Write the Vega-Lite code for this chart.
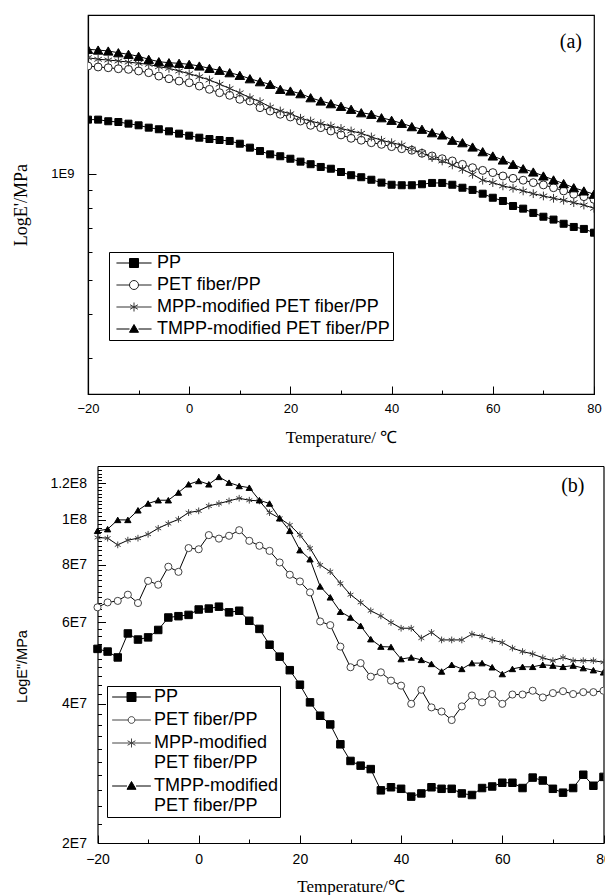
{
"$schema":"https://vega.github.io/schema/vega-lite/v6.json",
"padding":{"left":12,"top":14,"right":0,"bottom":0},
"background":"white",
"config":{
 "view":{"stroke":"black","strokeWidth":1.2},
 "axis":{"grid":false,"domainColor":"black","domainWidth":1.2,"tickColor":"black","tickWidth":1,"labelColor":"black","titleColor":"black","labelFont":"Liberation Sans","titleFont":"Liberation Serif","titleFontWeight":"normal","labelFlush":false,"labelOverlap":false},
 "legend":{"labelFont":"Liberation Sans","labelFontSize":18,"labelColor":"black","labelLimit":400,"strokeColor":"black","fillColor":"white","padding":2,"symbolStrokeWidth":1},
 "title":{"font":"Liberation Serif","fontWeight":"normal","color":"black"}
},
"datasets":{
"a":[
{"T":-20,"S":"PP","E":1.427e9},{"T":-18,"S":"PP","E":1.427e9},{"T":-16,"S":"PP","E":1.412e9},{"T":-14,"S":"PP","E":1.405e9},{"T":-12,"S":"PP","E":1.390e9},{"T":-10,"S":"PP","E":1.375e9},{"T":-8,"S":"PP","E":1.354e9},{"T":-6,"S":"PP","E":1.340e9},{"T":-4,"S":"PP","E":1.322e9},{"T":-2,"S":"PP","E":1.302e9},{"T":0,"S":"PP","E":1.285e9},{"T":2,"S":"PP","E":1.268e9},{"T":4,"S":"PP","E":1.257e9},{"T":6,"S":"PP","E":1.249e9},{"T":8,"S":"PP","E":1.241e9},{"T":10,"S":"PP","E":1.219e9},{"T":12,"S":"PP","E":1.188e9},{"T":14,"S":"PP","E":1.162e9},{"T":16,"S":"PP","E":1.137e9},{"T":18,"S":"PP","E":1.123e9},{"T":20,"S":"PP","E":1.105e9},{"T":22,"S":"PP","E":1.084e9},{"T":24,"S":"PP","E":1.066e9},{"T":26,"S":"PP","E":1.047e9},{"T":28,"S":"PP","E":1.035e9},{"T":30,"S":"PP","E":1.013e9},{"T":32,"S":"PP","E":0.992e9},{"T":34,"S":"PP","E":0.979e9},{"T":36,"S":"PP","E":0.963e9},{"T":38,"S":"PP","E":0.945e9},{"T":40,"S":"PP","E":0.932e9},{"T":42,"S":"PP","E":0.929e9},{"T":44,"S":"PP","E":0.929e9},{"T":46,"S":"PP","E":0.935e9},{"T":48,"S":"PP","E":0.943e9},{"T":50,"S":"PP","E":0.943e9},{"T":52,"S":"PP","E":0.932e9},{"T":54,"S":"PP","E":0.914e9},{"T":56,"S":"PP","E":0.901e9},{"T":58,"S":"PP","E":0.879e9},{"T":60,"S":"PP","E":0.856e9},{"T":62,"S":"PP","E":0.838e9},{"T":64,"S":"PP","E":0.811e9},{"T":66,"S":"PP","E":0.797e9},{"T":68,"S":"PP","E":0.775e9},{"T":70,"S":"PP","E":0.756e9},{"T":72,"S":"PP","E":0.742e9},{"T":74,"S":"PP","E":0.722e9},{"T":76,"S":"PP","E":0.707e9},{"T":78,"S":"PP","E":0.698e9},{"T":80,"S":"PP","E":0.681e9},
{"T":-20,"S":"PET","E":2.027e9},{"T":-18,"S":"PET","E":2.014e9},{"T":-16,"S":"PET","E":2.004e9},{"T":-14,"S":"PET","E":1.991e9},{"T":-12,"S":"PET","E":1.983e9},{"T":-10,"S":"PET","E":1.962e9},{"T":-8,"S":"PET","E":1.940e9},{"T":-6,"S":"PET","E":1.898e9},{"T":-4,"S":"PET","E":1.865e9},{"T":-2,"S":"PET","E":1.837e9},{"T":0,"S":"PET","E":1.817e9},{"T":2,"S":"PET","E":1.778e9},{"T":4,"S":"PET","E":1.740e9},{"T":6,"S":"PET","E":1.702e9},{"T":8,"S":"PET","E":1.673e9},{"T":10,"S":"PET","E":1.630e9},{"T":12,"S":"PET","E":1.612e9},{"T":14,"S":"PET","E":1.543e9},{"T":16,"S":"PET","E":1.510e9},{"T":18,"S":"PET","E":1.478e9},{"T":20,"S":"PET","E":1.452e9},{"T":22,"S":"PET","E":1.414e9},{"T":24,"S":"PET","E":1.375e9},{"T":26,"S":"PET","E":1.354e9},{"T":28,"S":"PET","E":1.325e9},{"T":30,"S":"PET","E":1.291e9},{"T":32,"S":"PET","E":1.263e9},{"T":34,"S":"PET","E":1.247e9},{"T":36,"S":"PET","E":1.227e9},{"T":38,"S":"PET","E":1.214e9},{"T":40,"S":"PET","E":1.196e9},{"T":42,"S":"PET","E":1.180e9},{"T":44,"S":"PET","E":1.168e9},{"T":46,"S":"PET","E":1.145e9},{"T":48,"S":"PET","E":1.125e9},{"T":50,"S":"PET","E":1.105e9},{"T":52,"S":"PET","E":1.089e9},{"T":54,"S":"PET","E":1.065e9},{"T":56,"S":"PET","E":1.042e9},{"T":58,"S":"PET","E":1.024e9},{"T":60,"S":"PET","E":1.009e9},{"T":62,"S":"PET","E":0.987e9},{"T":64,"S":"PET","E":0.972e9},{"T":66,"S":"PET","E":0.960e9},{"T":68,"S":"PET","E":0.945e9},{"T":70,"S":"PET","E":0.931e9},{"T":72,"S":"PET","E":0.914e9},{"T":74,"S":"PET","E":0.895e9},{"T":76,"S":"PET","E":0.876e9},{"T":78,"S":"PET","E":0.862e9},{"T":80,"S":"PET","E":0.847e9},
{"T":-20,"S":"MPP","E":2.140e9},{"T":-18,"S":"MPP","E":2.118e9},{"T":-16,"S":"MPP","E":2.108e9},{"T":-14,"S":"MPP","E":2.094e9},{"T":-12,"S":"MPP","E":2.080e9},{"T":-10,"S":"MPP","E":2.063e9},{"T":-8,"S":"MPP","E":2.049e9},{"T":-6,"S":"MPP","E":2.017e9},{"T":-4,"S":"MPP","E":1.996e9},{"T":-2,"S":"MPP","E":1.962e9},{"T":0,"S":"MPP","E":1.927e9},{"T":2,"S":"MPP","E":1.890e9},{"T":4,"S":"MPP","E":1.850e9},{"T":6,"S":"MPP","E":1.800e9},{"T":8,"S":"MPP","E":1.750e9},{"T":10,"S":"MPP","E":1.700e9},{"T":12,"S":"MPP","E":1.647e9},{"T":14,"S":"MPP","E":1.605e9},{"T":16,"S":"MPP","E":1.550e9},{"T":18,"S":"MPP","E":1.510e9},{"T":20,"S":"MPP","E":1.483e9},{"T":22,"S":"MPP","E":1.440e9},{"T":24,"S":"MPP","E":1.414e9},{"T":26,"S":"MPP","E":1.390e9},{"T":28,"S":"MPP","E":1.369e9},{"T":30,"S":"MPP","E":1.347e9},{"T":32,"S":"MPP","E":1.325e9},{"T":34,"S":"MPP","E":1.305e9},{"T":36,"S":"MPP","E":1.274e9},{"T":38,"S":"MPP","E":1.247e9},{"T":40,"S":"MPP","E":1.227e9},{"T":42,"S":"MPP","E":1.209e9},{"T":44,"S":"MPP","E":1.175e9},{"T":46,"S":"MPP","E":1.149e9},{"T":48,"S":"MPP","E":1.113e9},{"T":50,"S":"MPP","E":1.089e9},{"T":52,"S":"MPP","E":1.061e9},{"T":54,"S":"MPP","E":1.031e9},{"T":56,"S":"MPP","E":0.998e9},{"T":58,"S":"MPP","E":0.960e9},{"T":60,"S":"MPP","E":0.945e9},{"T":62,"S":"MPP","E":0.925e9},{"T":64,"S":"MPP","E":0.911e9},{"T":66,"S":"MPP","E":0.895e9},{"T":68,"S":"MPP","E":0.879e9},{"T":70,"S":"MPP","E":0.866e9},{"T":72,"S":"MPP","E":0.853e9},{"T":74,"S":"MPP","E":0.842e9},{"T":76,"S":"MPP","E":0.829e9},{"T":78,"S":"MPP","E":0.816e9},{"T":80,"S":"MPP","E":0.799e9},
{"T":-20,"S":"TMPP","E":2.261e9},{"T":-18,"S":"TMPP","E":2.250e9},{"T":-16,"S":"TMPP","E":2.236e9},{"T":-14,"S":"TMPP","E":2.211e9},{"T":-12,"S":"TMPP","E":2.188e9},{"T":-10,"S":"TMPP","E":2.160e9},{"T":-8,"S":"TMPP","E":2.118e9},{"T":-6,"S":"TMPP","E":2.085e9},{"T":-4,"S":"TMPP","E":2.071e9},{"T":-2,"S":"TMPP","E":2.063e9},{"T":0,"S":"TMPP","E":2.049e9},{"T":2,"S":"TMPP","E":2.027e9},{"T":4,"S":"TMPP","E":1.996e9},{"T":6,"S":"TMPP","E":1.971e9},{"T":8,"S":"TMPP","E":1.940e9},{"T":10,"S":"TMPP","E":1.907e9},{"T":12,"S":"TMPP","E":1.865e9},{"T":14,"S":"TMPP","E":1.829e9},{"T":16,"S":"TMPP","E":1.798e9},{"T":18,"S":"TMPP","E":1.740e9},{"T":20,"S":"TMPP","E":1.721e9},{"T":22,"S":"TMPP","E":1.691e9},{"T":24,"S":"TMPP","E":1.647e9},{"T":26,"S":"TMPP","E":1.612e9},{"T":28,"S":"TMPP","E":1.584e9},{"T":30,"S":"TMPP","E":1.557e9},{"T":32,"S":"TMPP","E":1.527e9},{"T":34,"S":"TMPP","E":1.493e9},{"T":36,"S":"TMPP","E":1.478e9},{"T":38,"S":"TMPP","E":1.445e9},{"T":40,"S":"TMPP","E":1.421e9},{"T":42,"S":"TMPP","E":1.393e9},{"T":44,"S":"TMPP","E":1.363e9},{"T":46,"S":"TMPP","E":1.340e9},{"T":48,"S":"TMPP","E":1.310e9},{"T":50,"S":"TMPP","E":1.291e9},{"T":52,"S":"TMPP","E":1.247e9},{"T":54,"S":"TMPP","E":1.227e9},{"T":56,"S":"TMPP","E":1.193e9},{"T":58,"S":"TMPP","E":1.157e9},{"T":60,"S":"TMPP","E":1.125e9},{"T":62,"S":"TMPP","E":1.096e9},{"T":64,"S":"TMPP","E":1.065e9},{"T":66,"S":"TMPP","E":1.035e9},{"T":68,"S":"TMPP","E":1.013e9},{"T":70,"S":"TMPP","E":0.987e9},{"T":72,"S":"TMPP","E":0.962e9},{"T":74,"S":"TMPP","E":0.939e9},{"T":76,"S":"TMPP","E":0.914e9},{"T":78,"S":"TMPP","E":0.895e9},{"T":80,"S":"TMPP","E":0.876e9}
],
"b":[
{"T":-20,"S":"PP","E":5.26e7},{"T":-18,"S":"PP","E":5.19e7},{"T":-16,"S":"PP","E":5.04e7},{"T":-14,"S":"PP","E":5.68e7},{"T":-12,"S":"PP","E":5.51e7},{"T":-10,"S":"PP","E":5.57e7},{"T":-8,"S":"PP","E":5.78e7},{"T":-6,"S":"PP","E":6.15e7},{"T":-4,"S":"PP","E":6.19e7},{"T":-2,"S":"PP","E":6.23e7},{"T":0,"S":"PP","E":6.40e7},{"T":2,"S":"PP","E":6.43e7},{"T":4,"S":"PP","E":6.49e7},{"T":6,"S":"PP","E":6.31e7},{"T":8,"S":"PP","E":6.36e7},{"T":10,"S":"PP","E":6.05e7},{"T":12,"S":"PP","E":5.81e7},{"T":14,"S":"PP","E":5.37e7},{"T":16,"S":"PP","E":5.06e7},{"T":18,"S":"PP","E":4.73e7},{"T":20,"S":"PP","E":4.40e7},{"T":22,"S":"PP","E":4.03e7},{"T":24,"S":"PP","E":3.77e7},{"T":26,"S":"PP","E":3.61e7},{"T":28,"S":"PP","E":3.27e7},{"T":30,"S":"PP","E":3.01e7},{"T":32,"S":"PP","E":2.94e7},{"T":34,"S":"PP","E":2.89e7},{"T":36,"S":"PP","E":2.60e7},{"T":38,"S":"PP","E":2.64e7},{"T":40,"S":"PP","E":2.62e7},{"T":42,"S":"PP","E":2.52e7},{"T":44,"S":"PP","E":2.56e7},{"T":46,"S":"PP","E":2.64e7},{"T":48,"S":"PP","E":2.62e7},{"T":50,"S":"PP","E":2.62e7},{"T":52,"S":"PP","E":2.56e7},{"T":54,"S":"PP","E":2.54e7},{"T":56,"S":"PP","E":2.63e7},{"T":58,"S":"PP","E":2.65e7},{"T":60,"S":"PP","E":2.70e7},{"T":62,"S":"PP","E":2.70e7},{"T":64,"S":"PP","E":2.63e7},{"T":66,"S":"PP","E":2.77e7},{"T":68,"S":"PP","E":2.73e7},{"T":70,"S":"PP","E":2.62e7},{"T":72,"S":"PP","E":2.57e7},{"T":74,"S":"PP","E":2.63e7},{"T":76,"S":"PP","E":2.81e7},{"T":78,"S":"PP","E":2.66e7},{"T":80,"S":"PP","E":2.78e7},
{"T":-20,"S":"PET","E":6.47e7},{"T":-18,"S":"PET","E":6.63e7},{"T":-16,"S":"PET","E":6.68e7},{"T":-14,"S":"PET","E":6.89e7},{"T":-12,"S":"PET","E":6.61e7},{"T":-10,"S":"PET","E":7.38e7},{"T":-8,"S":"PET","E":7.24e7},{"T":-6,"S":"PET","E":7.92e7},{"T":-4,"S":"PET","E":7.72e7},{"T":-2,"S":"PET","E":8.69e7},{"T":0,"S":"PET","E":8.64e7},{"T":2,"S":"PET","E":9.27e7},{"T":4,"S":"PET","E":9.11e7},{"T":6,"S":"PET","E":9.24e7},{"T":8,"S":"PET","E":9.50e7},{"T":10,"S":"PET","E":9.01e7},{"T":12,"S":"PET","E":8.79e7},{"T":14,"S":"PET","E":8.57e7},{"T":16,"S":"PET","E":8.09e7},{"T":18,"S":"PET","E":7.61e7},{"T":20,"S":"PET","E":7.36e7},{"T":22,"S":"PET","E":6.97e7},{"T":24,"S":"PET","E":6.03e7},{"T":26,"S":"PET","E":5.92e7},{"T":28,"S":"PET","E":5.32e7},{"T":30,"S":"PET","E":4.80e7},{"T":32,"S":"PET","E":4.90e7},{"T":34,"S":"PET","E":4.58e7},{"T":36,"S":"PET","E":4.68e7},{"T":38,"S":"PET","E":4.49e7},{"T":40,"S":"PET","E":4.38e7},{"T":42,"S":"PET","E":4.00e7},{"T":44,"S":"PET","E":4.29e7},{"T":46,"S":"PET","E":3.93e7},{"T":48,"S":"PET","E":3.85e7},{"T":50,"S":"PET","E":3.69e7},{"T":52,"S":"PET","E":3.95e7},{"T":54,"S":"PET","E":4.17e7},{"T":56,"S":"PET","E":4.03e7},{"T":58,"S":"PET","E":4.20e7},{"T":60,"S":"PET","E":4.00e7},{"T":62,"S":"PET","E":4.19e7},{"T":64,"S":"PET","E":4.19e7},{"T":66,"S":"PET","E":4.27e7},{"T":68,"S":"PET","E":4.13e7},{"T":70,"S":"PET","E":4.22e7},{"T":72,"S":"PET","E":4.26e7},{"T":74,"S":"PET","E":4.20e7},{"T":76,"S":"PET","E":4.24e7},{"T":78,"S":"PET","E":4.24e7},{"T":80,"S":"PET","E":4.27e7},
{"T":-20,"S":"MPP","E":9.16e7},{"T":-18,"S":"MPP","E":9.13e7},{"T":-16,"S":"MPP","E":8.83e7},{"T":-14,"S":"MPP","E":9.04e7},{"T":-12,"S":"MPP","E":9.13e7},{"T":-10,"S":"MPP","E":9.31e7},{"T":-8,"S":"MPP","E":9.59e7},{"T":-6,"S":"MPP","E":9.82e7},{"T":-4,"S":"MPP","E":1.003e8},{"T":-2,"S":"MPP","E":1.037e8},{"T":0,"S":"MPP","E":1.046e8},{"T":2,"S":"MPP","E":1.072e8},{"T":4,"S":"MPP","E":1.085e8},{"T":6,"S":"MPP","E":1.099e8},{"T":8,"S":"MPP","E":1.114e8},{"T":10,"S":"MPP","E":1.103e8},{"T":12,"S":"MPP","E":1.099e8},{"T":14,"S":"MPP","E":1.037e8},{"T":16,"S":"MPP","E":1.008e8},{"T":18,"S":"MPP","E":9.75e7},{"T":20,"S":"MPP","E":9.28e7},{"T":22,"S":"MPP","E":8.69e7},{"T":24,"S":"MPP","E":7.99e7},{"T":26,"S":"MPP","E":7.73e7},{"T":28,"S":"MPP","E":7.29e7},{"T":30,"S":"MPP","E":6.89e7},{"T":32,"S":"MPP","E":6.63e7},{"T":34,"S":"MPP","E":6.36e7},{"T":36,"S":"MPP","E":6.20e7},{"T":38,"S":"MPP","E":6.00e7},{"T":40,"S":"MPP","E":5.83e7},{"T":42,"S":"MPP","E":5.83e7},{"T":44,"S":"MPP","E":5.55e7},{"T":46,"S":"MPP","E":5.71e7},{"T":48,"S":"MPP","E":5.50e7},{"T":50,"S":"MPP","E":5.50e7},{"T":52,"S":"MPP","E":5.50e7},{"T":54,"S":"MPP","E":5.66e7},{"T":56,"S":"MPP","E":5.60e7},{"T":58,"S":"MPP","E":5.50e7},{"T":60,"S":"MPP","E":5.43e7},{"T":62,"S":"MPP","E":5.28e7},{"T":64,"S":"MPP","E":5.19e7},{"T":66,"S":"MPP","E":5.13e7},{"T":68,"S":"MPP","E":5.03e7},{"T":70,"S":"MPP","E":4.96e7},{"T":72,"S":"MPP","E":5.04e7},{"T":74,"S":"MPP","E":4.96e7},{"T":76,"S":"MPP","E":4.96e7},{"T":78,"S":"MPP","E":4.96e7},{"T":80,"S":"MPP","E":4.92e7},
{"T":-20,"S":"TMPP","E":9.47e7},{"T":-18,"S":"TMPP","E":9.55e7},{"T":-16,"S":"TMPP","E":1.000e8},{"T":-14,"S":"TMPP","E":1.000e8},{"T":-12,"S":"TMPP","E":1.049e8},{"T":-10,"S":"TMPP","E":1.085e8},{"T":-8,"S":"TMPP","E":1.103e8},{"T":-6,"S":"TMPP","E":1.103e8},{"T":-4,"S":"TMPP","E":1.146e8},{"T":-2,"S":"TMPP","E":1.194e8},{"T":0,"S":"TMPP","E":1.214e8},{"T":2,"S":"TMPP","E":1.194e8},{"T":4,"S":"TMPP","E":1.239e8},{"T":6,"S":"TMPP","E":1.204e8},{"T":8,"S":"TMPP","E":1.184e8},{"T":10,"S":"TMPP","E":1.174e8},{"T":12,"S":"TMPP","E":1.103e8},{"T":14,"S":"TMPP","E":1.085e8},{"T":16,"S":"TMPP","E":1.008e8},{"T":18,"S":"TMPP","E":9.47e7},{"T":20,"S":"TMPP","E":8.60e7},{"T":22,"S":"TMPP","E":8.22e7},{"T":24,"S":"TMPP","E":7.18e7},{"T":26,"S":"TMPP","E":6.80e7},{"T":28,"S":"TMPP","E":6.33e7},{"T":30,"S":"TMPP","E":6.15e7},{"T":32,"S":"TMPP","E":5.90e7},{"T":34,"S":"TMPP","E":5.52e7},{"T":36,"S":"TMPP","E":5.32e7},{"T":38,"S":"TMPP","E":5.31e7},{"T":40,"S":"TMPP","E":5.00e7},{"T":42,"S":"TMPP","E":5.04e7},{"T":44,"S":"TMPP","E":4.98e7},{"T":46,"S":"TMPP","E":4.88e7},{"T":48,"S":"TMPP","E":4.70e7},{"T":50,"S":"TMPP","E":4.86e7},{"T":52,"S":"TMPP","E":4.76e7},{"T":54,"S":"TMPP","E":4.90e7},{"T":56,"S":"TMPP","E":4.90e7},{"T":58,"S":"TMPP","E":4.80e7},{"T":60,"S":"TMPP","E":4.64e7},{"T":62,"S":"TMPP","E":4.76e7},{"T":64,"S":"TMPP","E":4.81e7},{"T":66,"S":"TMPP","E":4.81e7},{"T":68,"S":"TMPP","E":4.86e7},{"T":70,"S":"TMPP","E":4.84e7},{"T":72,"S":"TMPP","E":4.81e7},{"T":74,"S":"TMPP","E":4.84e7},{"T":76,"S":"TMPP","E":4.78e7},{"T":78,"S":"TMPP","E":4.73e7},{"T":80,"S":"TMPP","E":4.68e7}
]},
"vconcat":[
{
 "width":506,"height":379,
 "data":{"name":"a"},
 "title":{"text":"(a)","orient":"top","anchor":"end","frame":"group","offset":-47,"dx":-12,"baseline":"middle","fontSize":20},
 "layer":[
  {"mark":{"type":"line","color":"black","strokeWidth":1,"clip":true},
   "encoding":{
    "x":{"field":"T","type":"quantitative","scale":{"domain":[-20,80],"nice":false,"zero":false},
         "axis":{"orient":"bottom","values":[-20,0,20,40,60,80],"tickSize":-8,"labelPadding":16,"labelFontSize":13,"title":"Temperature/ ℃","titleFontSize":17,"titlePadding":14}},
    "y":{"field":"E","type":"quantitative","scale":{"type":"log","domain":[2.37e8,2.83e9],"nice":false},
         "axis":{"orient":"left","values":[1e9],"labelExpr":"replace(replace(format(datum.value, '.2~e'), 'e+', 'E'), 'e', 'E')","tickSize":-8,"labelPadding":22,"labelFontSize":13,"title":"LogE'/MPa","titleFontSize":18,"titlePadding":20}},
    "detail":{"field":"S","type":"nominal"}
   }},
  {"mark":{"type":"point","opacity":1,"strokeWidth":1,"clip":true},
   "encoding":{
    "x":{"field":"T","type":"quantitative","axis":{"orient":"bottom","values":[-10,10,30,50,70],"tickSize":-4,"labels":false,"domain":false,"title":null,"offset":0}},
    "y":{"field":"E","type":"quantitative","axis":{"orient":"left","values":[3e8,4e8,5e8,6e8,7e8,8e8,9e8],"tickSize":-4,"labels":false,"domain":false,"title":null,"offset":0}},
    "shape":{"field":"S","type":"nominal","scale":{"domain":["PP","PET","MPP","TMPP"],"range":["square","circle","M0,-1V1M-0.87,-0.5L0.87,0.5M-0.87,0.5L0.87,-0.5","triangle-up"]},"legend":null},
    "size":{"field":"S","type":"nominal","scale":{"domain":["PP","PET","MPP","TMPP"],"range":[49,90,85,76]},"legend":null},
    "fill":{"field":"S","type":"nominal","scale":{"domain":["PP","PET","MPP","TMPP"],"range":["black","white","transparent","black"]},"legend":null},
    "stroke":{"field":"S","type":"nominal","scale":{"domain":["PP","PET","MPP","TMPP"],"range":["black","#222222","#333333","black"]},"legend":null}
   }},
  {"transform":[{"filter":"datum.T > 1000"}],
   "mark":{"type":"point","opacity":1,"strokeWidth":1},
   "encoding":{
    "shape":{"field":"S","type":"nominal","scale":{"domain":["PP","PET","MPP","TMPP"],"range":["M-3.9,0H-1M1,0H3.9M-1,-1H1V1H-1Z","M-3.9,0H-1M1,0H3.9M-1,0A1,1,0,1,1,1,0A1,1,0,1,1,-1,0Z","M-3.9,0H3.9M0,-1V1M-0.87,-0.5L0.87,0.5M-0.87,0.5L0.87,-0.5","M-3.9,0H-1M1,0H3.9M0,-1L1,0.73H-1Z"]},
      "legend":{"title":null,"orient":"none","legendX":21,"legendY":237,"symbolOffset":14,"labelOffset":14,"rowPadding":4,"symbolSize":81,
        "labelExpr":"datum.value == 'PP' ? 'PP' : datum.value == 'PET' ? 'PET fiber/PP' : datum.value == 'MPP' ? 'MPP-modified PET fiber/PP' : 'TMPP-modified PET fiber/PP'"}},
    "fill":{"field":"S","type":"nominal","scale":{"domain":["PP","PET","MPP","TMPP"],"range":["black","white","transparent","black"]},
      "legend":{"title":null,"orient":"none","legendX":21,"legendY":237,"symbolOffset":14,"labelOffset":14,"rowPadding":4,"symbolSize":81,
        "labelExpr":"datum.value == 'PP' ? 'PP' : datum.value == 'PET' ? 'PET fiber/PP' : datum.value == 'MPP' ? 'MPP-modified PET fiber/PP' : 'TMPP-modified PET fiber/PP'"}},
    "stroke":{"field":"S","type":"nominal","scale":{"domain":["PP","PET","MPP","TMPP"],"range":["black","#222222","#333333","black"]},
      "legend":{"title":null,"orient":"none","legendX":21,"legendY":237,"symbolOffset":14,"labelOffset":14,"rowPadding":4,"symbolSize":81,
        "labelExpr":"datum.value == 'PP' ? 'PP' : datum.value == 'PET' ? 'PET fiber/PP' : datum.value == 'MPP' ? 'MPP-modified PET fiber/PP' : 'TMPP-modified PET fiber/PP'"}}
   }}
 ],
 "resolve":{"axis":{"x":"independent","y":"independent"},"scale":{"shape":"independent","fill":"independent","stroke":"independent","size":"independent"},"legend":{"shape":"independent","fill":"independent","stroke":"independent","size":"independent"}}
},
{
 "width":515.5,"height":377,
 "data":{"name":"b"},
 "view":{"stroke":null},
 "title":{"text":"(b)","orient":"top","anchor":"end","frame":"group","offset":-40,"dx":-19,"baseline":"middle","fontSize":20},
 "layer":[
  {"mark":{"type":"line","color":"black","strokeWidth":1,"clip":true},
   "encoding":{
    "x":{"field":"T","type":"quantitative","scale":{"domain":[-20,80],"range":[9.5,515.5],"nice":false,"zero":false},
         "axis":{"orient":"bottom","values":[-20,0,20,40,60,80],"tickSize":-8,"labelPadding":17,"labelFontSize":14,"title":"Temperature/℃","titleFontSize":17,"titlePadding":12.5}},
    "y":{"field":"E","type":"quantitative","scale":{"type":"log","domain":[2e7,1.308e8],"nice":false},
         "axis":{"orient":"left","offset":-9.5,"values":[2e7,4e7,6e7,8e7,1e8,1.2e8],"labelExpr":"replace(replace(format(datum.value, '.2~e'), 'e+', 'E'), 'e', 'E')","tickSize":-8,"labelPadding":19,"labelFontSize":14,"title":"LogE\"/MPa","titleFont":"Liberation Sans","titleFontSize":14.5,"titlePadding":20.5,"titleY":200}},
    "detail":{"field":"S","type":"nominal"}
   }},
  {"mark":{"type":"line","strokeOpacity":0,"clip":true},
   "encoding":{
    "x":{"field":"T","type":"quantitative","axis":{"orient":"top","ticks":false,"labels":false,"domain":true,"title":null,"offset":0}},
    "y":{"field":"E","type":"quantitative","axis":{"orient":"right","ticks":false,"labels":false,"domain":true,"title":null,"offset":0}},
    "detail":{"field":"S","type":"nominal"}
   }},
  {"mark":{"type":"point","opacity":1,"strokeWidth":1,"clip":true},
   "encoding":{
    "x":{"field":"T","type":"quantitative","axis":{"orient":"bottom","values":[-10,10,30,50,70],"tickSize":-4,"labels":false,"domain":false,"title":null,"offset":0}},
    "y":{"field":"E","type":"quantitative","axis":{"orient":"left","offset":-9.5,"values":[22e6,24e6,26e6,28e6,30e6,32e6,34e6,36e6,38e6,42e6,44e6,46e6,48e6,50e6,52e6,54e6,56e6,58e6,62e6,64e6,66e6,68e6,70e6,72e6,74e6,76e6,78e6,82e6,84e6,86e6,88e6,90e6,92e6,94e6,96e6,98e6,102e6,104e6,106e6,108e6,110e6,112e6,114e6,116e6,118e6,122e6,124e6,126e6,128e6],"tickSize":-4,"labels":false,"domain":false,"title":null}},
    "shape":{"field":"S","type":"nominal","scale":{"domain":["PP","PET","MPP","TMPP"],"range":["square","circle","M0,-1V1M-0.87,-0.5L0.87,0.5M-0.87,0.5L0.87,-0.5","triangle-up"]},"legend":null},
    "size":{"field":"S","type":"nominal","scale":{"domain":["PP","PET","MPP","TMPP"],"range":[56,40,100,86]},"legend":null},
    "fill":{"field":"S","type":"nominal","scale":{"domain":["PP","PET","MPP","TMPP"],"range":["black","white","transparent","black"]},"legend":null},
    "stroke":{"field":"S","type":"nominal","scale":{"domain":["PP","PET","MPP","TMPP"],"range":["black","#444444","#444444","black"]},"legend":null}
   }},
  {"transform":[{"filter":"datum.T > 1000"}],
   "mark":{"type":"point","opacity":1,"strokeWidth":1},
   "encoding":{
    "shape":{"field":"S","type":"nominal","scale":{"domain":["PP","PET","MPP","TMPP"],"range":["M-4.3,0H-1M1,0H4.3M-1,-1H1V1H-1Z","M-4.3,0H-0.75M0.75,0H4.3M-0.75,0A0.75,0.75,0,1,1,0.75,0A0.75,0.75,0,1,1,-0.75,0Z","M-4.3,0H4.3M0,-1V1M-0.87,-0.5L0.87,0.5M-0.87,0.5L0.87,-0.5","M-4.3,0H-1M1,0H4.3M0,-1L1,0.73H-1Z"]},
      "legend":{"title":null,"orient":"none","legendX":19,"legendY":220,"symbolOffset":13.5,"labelOffset":13.4,"rowPadding":5,"symbolSize":81,
        "labelExpr":"datum.value == 'PP' ? 'PP' : datum.value == 'PET' ? 'PET fiber/PP' : datum.value == 'MPP' ? ['MPP-modified', 'PET fiber/PP'] : ['TMPP-modified', 'PET fiber/PP']",
        "encode":{"labels":{"lineHeight":{"value":22.5}}}}},
    "fill":{"field":"S","type":"nominal","scale":{"domain":["PP","PET","MPP","TMPP"],"range":["black","white","transparent","black"]},
      "legend":{"title":null,"orient":"none","legendX":19,"legendY":220,"symbolOffset":13.5,"labelOffset":13.4,"rowPadding":5,"symbolSize":81,
        "labelExpr":"datum.value == 'PP' ? 'PP' : datum.value == 'PET' ? 'PET fiber/PP' : datum.value == 'MPP' ? ['MPP-modified', 'PET fiber/PP'] : ['TMPP-modified', 'PET fiber/PP']",
        "encode":{"labels":{"lineHeight":{"value":22.5}}}}},
    "stroke":{"field":"S","type":"nominal","scale":{"domain":["PP","PET","MPP","TMPP"],"range":["black","#444444","#444444","black"]},
      "legend":{"title":null,"orient":"none","legendX":19,"legendY":220,"symbolOffset":13.5,"labelOffset":13.4,"rowPadding":5,"symbolSize":81,
        "labelExpr":"datum.value == 'PP' ? 'PP' : datum.value == 'PET' ? 'PET fiber/PP' : datum.value == 'MPP' ? ['MPP-modified', 'PET fiber/PP'] : ['TMPP-modified', 'PET fiber/PP']",
        "encode":{"labels":{"lineHeight":{"value":22.5}}}}}
   }}
 ],
 "resolve":{"axis":{"x":"independent","y":"independent"},"scale":{"shape":"independent","fill":"independent","stroke":"independent","size":"independent"},"legend":{"shape":"independent","fill":"independent","stroke":"independent","size":"independent"}}
}
],
"spacing":20,
"resolve":{"scale":{"x":"independent","y":"independent","shape":"independent","fill":"independent","stroke":"independent","size":"independent"},"legend":{"shape":"independent","fill":"independent","stroke":"independent","size":"independent"}}
}
